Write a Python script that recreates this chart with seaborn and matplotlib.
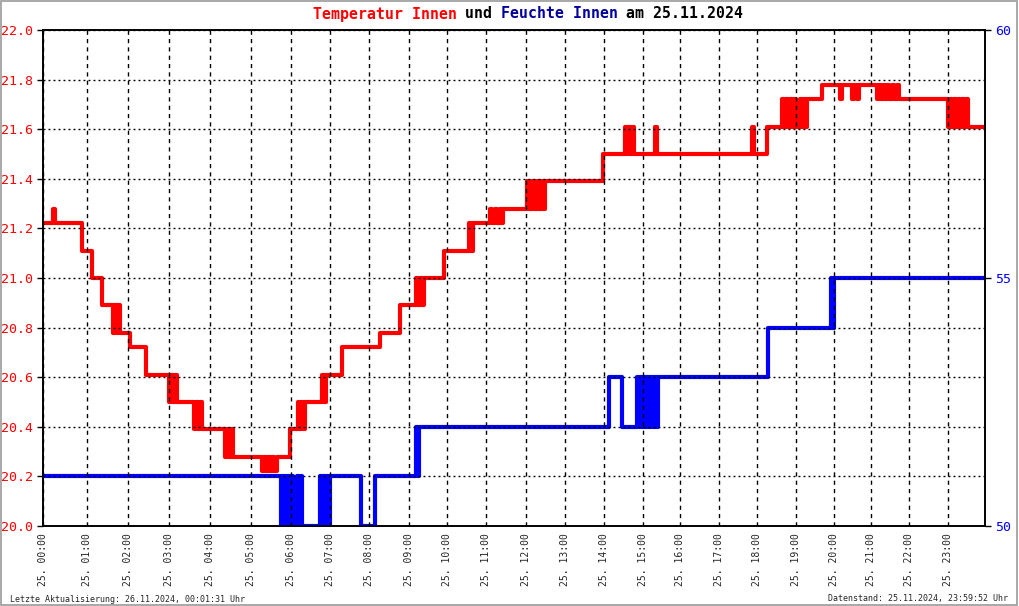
import numpy as np
import pandas as pd
import seaborn as sns
import matplotlib.pyplot as plt
from matplotlib.patches import Rectangle

# Messpunkte (laufender Index) und Werte
temp_idx = [0, 10, 12, 39, 49, 59,
            70, 72, 74, 75, 77,
            87, 103,
            126, 128, 130, 132, 134,
            151, 153, 155, 157, 159,
            182, 184, 186, 188, 190,
            219, 221, 223, 225, 227, 229, 231, 234,
            247, 255, 256, 258, 260, 262,
            279, 281, 283,
            299, 337, 357,
            373, 375, 377, 379, 381,
            401, 426, 428, 430,
            447, 449, 452, 454, 457, 459, 460,
            484, 486, 489, 491, 494, 496, 498, 500, 502,
            560,
            582, 584, 585, 587, 589, 591,
            612, 614,
            709, 711,
            724,
            739, 741, 743, 745, 747, 749, 751, 753,
            757, 759, 761, 763, 764,
            779,
            797, 799, 809, 811, 814, 816,
            834, 836, 838, 840, 842, 844, 846, 849, 851, 854, 856,
            905, 907, 909, 911, 913, 915, 917, 919, 921, 923, 925,
            942]
temp_val = [21.22, 21.28, 21.22, 21.11, 21.00, 20.89,
            20.78, 20.89, 20.78, 20.89, 20.78,
            20.72, 20.61,
            20.50, 20.61, 20.50, 20.61, 20.50,
            20.39, 20.50, 20.39, 20.50, 20.39,
            20.28, 20.39, 20.28, 20.39, 20.28,
            20.22, 20.28, 20.22, 20.28, 20.22, 20.28, 20.22, 20.28,
            20.39, 20.50, 20.39, 20.50, 20.39, 20.50,
            20.61, 20.50, 20.61,
            20.72, 20.78, 20.89,
            21.00, 20.89, 21.00, 20.89, 21.00,
            21.11, 21.22, 21.11, 21.22,
            21.28, 21.22, 21.28, 21.22, 21.28, 21.22, 21.28,
            21.39, 21.28, 21.39, 21.28, 21.39, 21.28, 21.39, 21.28, 21.39,
            21.50,
            21.61, 21.50, 21.61, 21.50, 21.61, 21.50,
            21.61, 21.50,
            21.61, 21.50,
            21.61,
            21.72, 21.61, 21.72, 21.61, 21.72, 21.61, 21.72, 21.61,
            21.72, 21.61, 21.72, 21.61, 21.72,
            21.78,
            21.72, 21.78, 21.72, 21.78, 21.72, 21.78,
            21.72, 21.78, 21.72, 21.78, 21.72, 21.78, 21.72, 21.78, 21.72, 21.78, 21.72,
            21.61, 21.72, 21.61, 21.72, 21.61, 21.72, 21.61, 21.72, 21.61, 21.72, 21.61,
            21.61]

hum_idx = [0,
           238, 239, 240, 241, 242, 243, 244, 245, 246, 247, 248, 249, 250,
           254, 256, 258, 259,
           277, 279, 280, 282, 283, 285, 287,
           318, 332,
           373, 375, 376,
           566, 579,
           594, 596, 597, 599, 600, 602, 603, 605, 606, 608, 609, 611, 612, 614, 615,
           725, 788, 789, 791, 942]
hum_val = [51,
           50, 51, 50, 51, 50, 51, 50, 51, 50, 51, 50, 51, 50,
           51, 50, 51, 50,
           51, 50, 51, 50, 51, 50, 51,
           50, 51,
           52, 51, 52,
           53, 52,
           53, 52, 53, 52, 53, 52, 53, 52, 53, 52, 53, 52, 53, 52, 53,
           54, 55, 54, 55, 55]

# Index des jeweiligen Stundenbeginns
hour_idx = [0, 44, 85, 126, 167, 208, 248, 287, 326, 366, 404, 443,
            483, 522, 561, 600, 637, 676, 714, 753, 791, 828, 866, 905]
hour_labels = [f"25. {h:02d}:00" for h in range(24)]

temp_ticks = [20.0, 20.2, 20.4, 20.6, 20.8, 21.0, 21.2, 21.4, 21.6, 21.8, 22.0]
hum_ticks = [50, 55, 60]
hum_grid = [51, 52, 53, 54, 56, 57, 58, 59]

temp = pd.DataFrame({'idx': temp_idx, 'temp': temp_val})
hum = pd.DataFrame({'idx': hum_idx, 'hum': hum_val})

sns.set_style("white")
plt.rcParams['font.family'] = ['DejaVu Sans Mono']
plt.rcParams['lines.scale_dashes'] = False

fig = plt.figure(figsize=(10.2, 6.06), dpi=100)
ax = fig.add_axes([43/1020, 80/606, 942/1020, 496/606])
ax2 = ax.twinx()

sns.lineplot(data=temp, x='idx', y='temp', ax=ax, color='#ff0000', lw=3,
             drawstyle='steps-post', estimator=None)
sns.lineplot(data=hum, x='idx', y='hum', ax=ax2, color='#0000ff', lw=3,
             drawstyle='steps-post', estimator=None)

ax.set_xlim(0, 942)
ax.set_ylim(20, 22)
ax2.set_ylim(50, 60)
for a in (ax, ax2):
    a.set_xlabel('')
    a.set_ylabel('')
    for s in a.spines.values():
        s.set_color('black')
        s.set_linewidth(1.2)

ax.set_xticks(hour_idx)
ax.set_xticklabels(hour_labels, rotation=90, fontsize=7)
ax.tick_params(axis='x', length=0, pad=5)
ax.set_yticks(temp_ticks)
ax.set_yticklabels([f"{t:.1f}" for t in temp_ticks], fontsize=9.5, color='#ff0000')
ax.tick_params(axis='y', length=4, width=1, color='black', pad=3, direction='out', left=True)
ax.grid(False)

ax2.set_yticks(hum_ticks)
ax2.set_yticklabels([str(t) for t in hum_ticks], fontsize=9.5, color='#0000ff')
ax2.set_yticks(hum_grid, minor=True)
ax2.tick_params(axis='y', which='major', length=4, width=1, color='black', pad=3, direction='out', right=True)
ax2.tick_params(axis='y', which='minor', length=0)

# Gitter ueber den Linien
ax2.xaxis.set_visible(True)
ax2.tick_params(axis='x', labelbottom=False, labeltop=False, length=0)
ax2.set_axisbelow(False)
ax2.grid(True, axis='x', color='black', lw=1, linestyle=(0, (3, 3)))
ax2.grid(True, axis='y', which='both', color='black', lw=1, linestyle=(0, (1.4, 2.2)))

# Titel in Farbe
fs = 10.7
cw = 0.602 * fs * 100 / 72 / 1020
x0 = 313 / 1020
parts = [("Temperatur Innen", '#ff0000'), (" und ", 'black'),
         ("Feuchte Innen", '#00009c'), (" am 25.11.2024", 'black')]
pos = 0
for txt, col in parts:
    fig.text(x0 + pos * cw, 1 - 14 / 606, txt, color=col, fontsize=fs,
             fontweight='bold', va='center', ha='left')
    pos += len(txt)

fig.text(10 / 1020, 1 - 599 / 606, "Letzte Aktualisierung: 26.11.2024, 00:01:31 Uhr",
         fontsize=6, va='center', ha='left')
fig.text(1008 / 1020, 1 - 599 / 606, "Datenstand: 25.11.2024, 23:59:52 Uhr",
         fontsize=6, va='center', ha='right')

fig.patches.append(Rectangle((0.5 / 1020, 1.5 / 606), 1017 / 1020, 604 / 606,
                             transform=fig.transFigure, fill=False,
                             edgecolor='#9a9a9a', lw=1.2))

fig.savefig("out.png", dpi=100)
